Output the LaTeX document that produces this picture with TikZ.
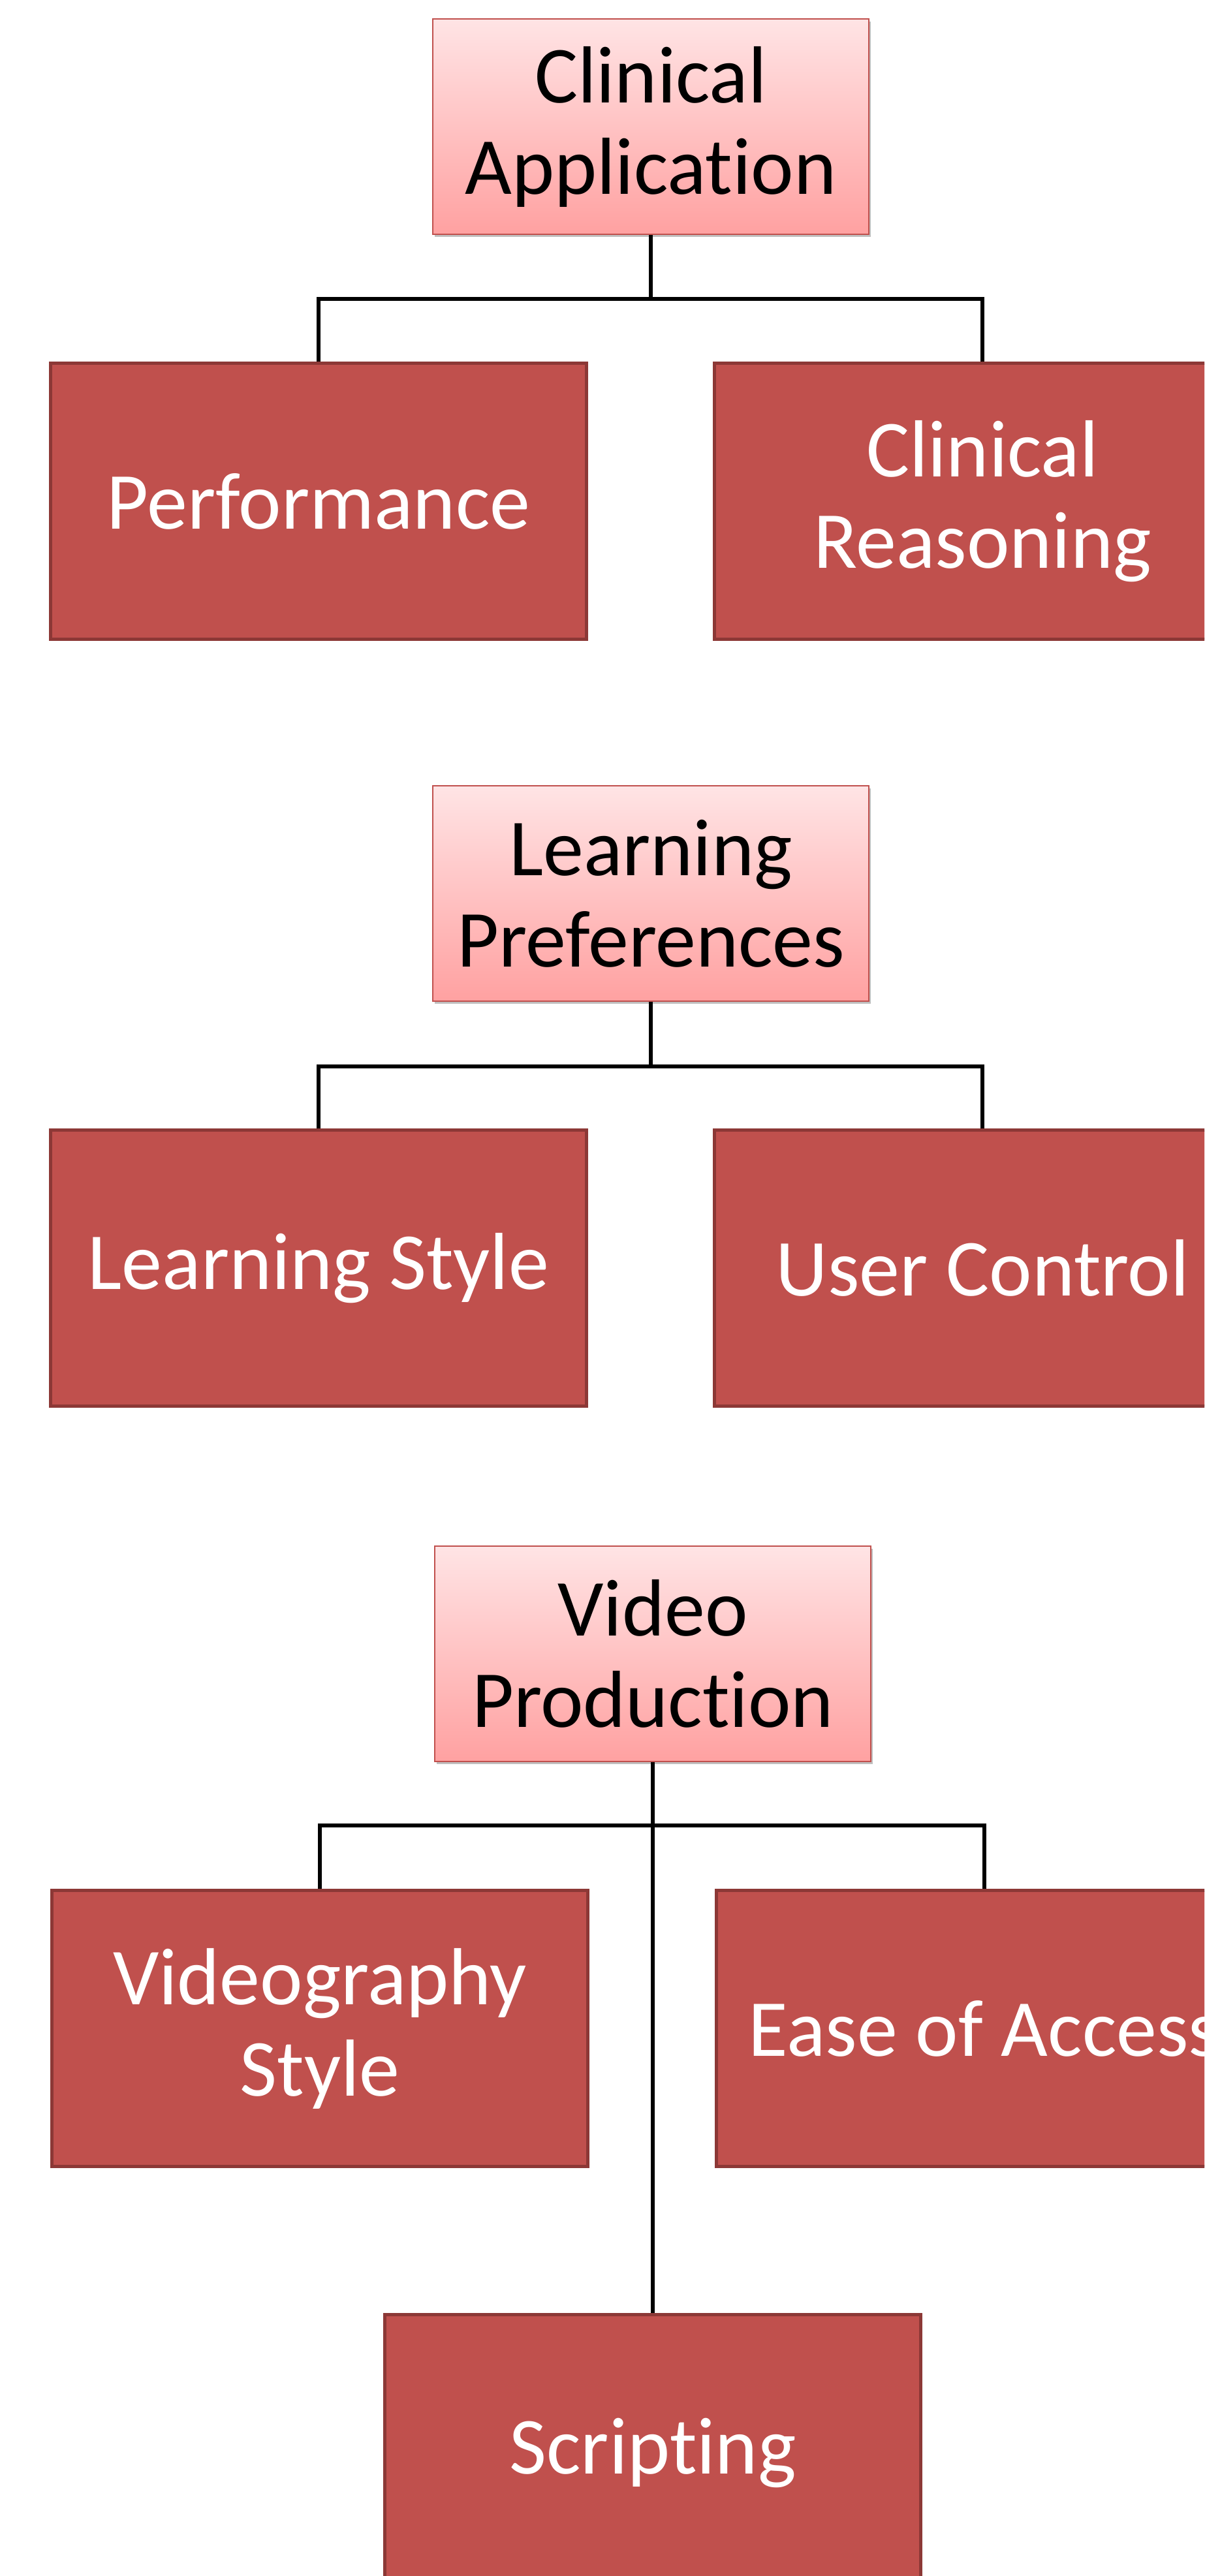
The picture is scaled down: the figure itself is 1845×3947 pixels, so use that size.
\documentclass[tikz,border=0pt]{standalone}
\usepackage{fontspec}
\setmainfont{Carlito}[RawFeature=-liga, RawFeature=-clig, RawFeature=-calt, RawFeature=-dlig, RawFeature=-rlig]
\usetikzlibrary{shadows}
\definecolor{childfill}{HTML}{C0504D}
\definecolor{childline}{HTML}{8C3836}
\definecolor{headtop}{HTML}{FFE4E5}
\definecolor{headbot}{HTML}{FFA1A1}
\definecolor{headline}{HTML}{C0504D}
% keep "t" and "i" as separate glyphs
\newcommand{\nolig}{\kern0pt{}}
\tikzset{
  headbox/.style={rectangle, draw=headline, line width=2pt,
    top color=headtop, bottom color=headbot,
    minimum width=668pt, minimum height=330pt, inner sep=0pt,
    align=center, text=black,
    font={\fontsize{124}{140}\selectfont},
    drop shadow={shadow xshift=3pt, shadow yshift=-4pt, opacity=0.25, fill=black}},
  childbox/.style={rectangle, draw=childline, fill=childfill, line width=5pt,
    minimum width=821pt, minimum height=423pt, inner sep=0pt,
    align=center, text=white,
    font={\fontsize{124}{140}\selectfont}},
  conn/.style={draw=black, line width=5.5pt}
}
\begin{document}
\begin{tikzpicture}[x=1pt, y=-1pt]
\useasboundingbox (0,0) rectangle (1845,3947);
\fill[white] (0,0) rectangle (1845,3947);
\clip (0,0) rectangle (1845,3947);

% --- Clinical Application ---
\node[headbox] (CA) at (997,194) {Clinical\\Applicat\nolig ion};
\node[childbox] (Perf) at (488,768) {Performance};
\node[childbox] (CR) at (1505,768) {Clinical\\Reasoning};
\coordinate (j1) at (997,458);
\draw[conn] (CA.south) -- (j1);
\draw[conn] (Perf.north) |- (j1) -| (CR.north);

% --- Learning Preferences ---
\node[headbox] (LP) at (997,1369) {Learning\\Preferences};
\node[childbox] (LS) at (488,1943) {Learning Style};
\node[childbox] (UC) at (1505,1943) {User Control};
\coordinate (j2) at (997,1634);
\draw[conn] (LP.south) -- (j2);
\draw[conn] (LS.north) |- (j2) -| (UC.north);

% --- Video Production ---
\node[headbox] (VP) at (1000,2534) {Video\\Product\nolig ion};
\node[childbox] (VS) at (490,3108) {Videography\\Style};
\node[childbox] (EA) at (1508,3108) {Ease of Access};
\node[childbox] (SC) at (1000,3758) {Script\nolig ing};
\coordinate (j3) at (1000,2797);
\draw[conn] (VS.north) |- (j3) -| (EA.north);
\draw[conn] (VP.south) -- (SC.north);
\end{tikzpicture}
\end{document}
